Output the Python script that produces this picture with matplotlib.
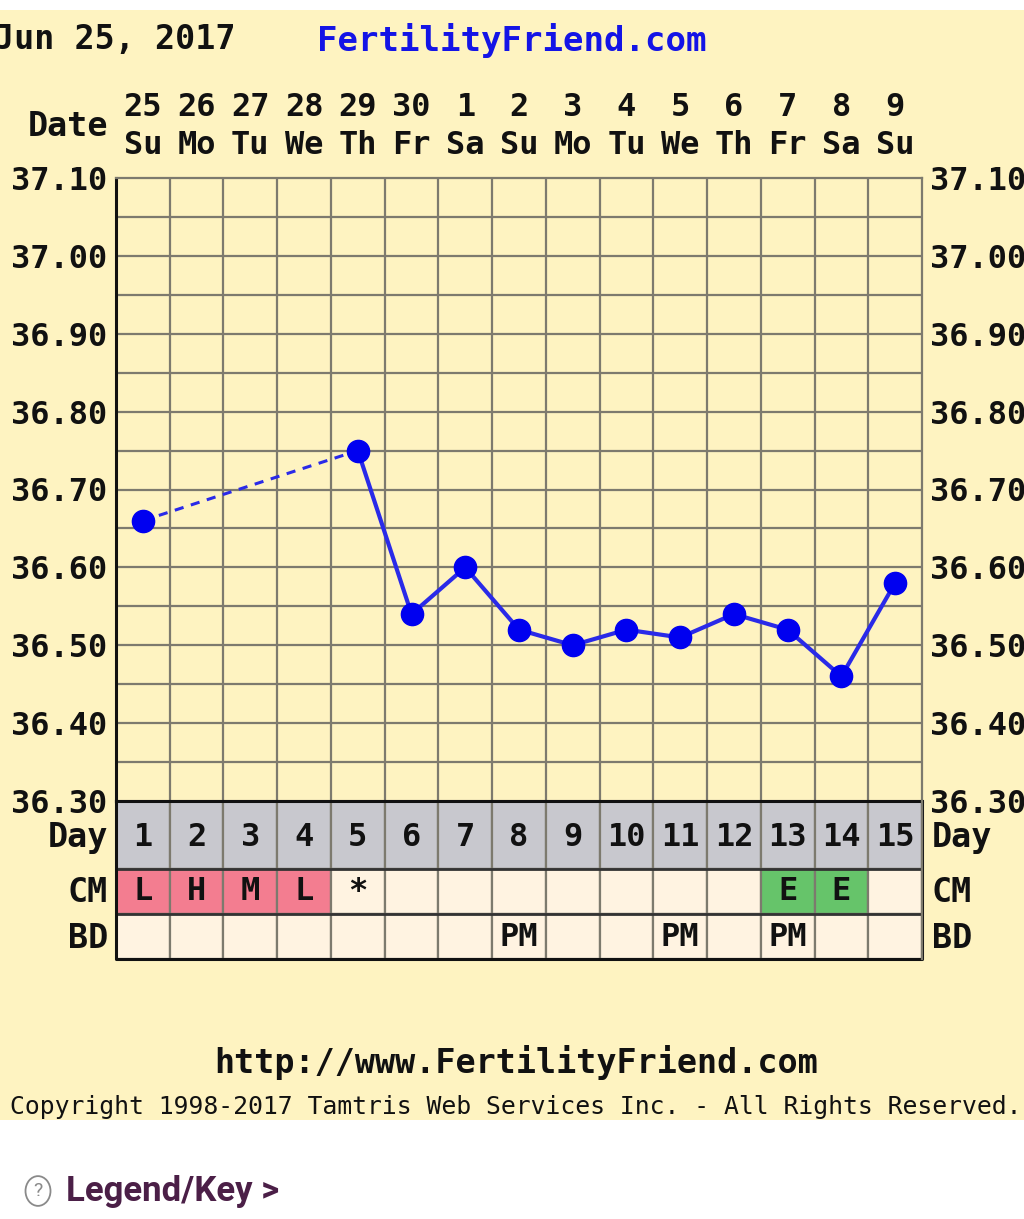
"""Fertility chart (BBT) recreation."""

import matplotlib

matplotlib.use("Agg")
import matplotlib.pyplot as plt
import matplotlib.transforms as mtransforms
from matplotlib.patches import Rectangle, Circle
import numpy as np

W, H = 1024, 1219

cycle_days = list(range(1, 16))
dates = ["25", "26", "27", "28", "29", "30", "1", "2", "3", "4", "5", "6", "7", "8", "9"]
weekdays = ["Su", "Mo", "Tu", "We", "Th", "Fr", "Sa", "Su", "Mo", "Tu", "We", "Th", "Fr", "Sa", "Su"]
temps = [36.66, None, None, None, 36.75, 36.54, 36.60, 36.52, 36.50, 36.52, 36.51, 36.54, 36.52, 36.46, 36.58]
cm_codes = ["L", "H", "M", "L", "*", "", "", "", "", "", "", "", "E", "E", ""]
bd_codes = ["", "", "", "", "", "", "", "PM", "", "", "PM", "", "PM", "", ""]
y_ticks = [37.10, 37.00, 36.90, 36.80, 36.70, 36.60, 36.50, 36.40, 36.30]

BG = "#fef3c1"
CELL = "#fff3e1"
GRAY_ROW = "#c8c8ce"
PINK = "#f37d90"
GREEN = "#66c46a"
GRID = "#7d7a6e"
BLUE = "#0000f0"
MONO = "DejaVu Sans Mono"


def fx(px):
    return px / W


def fy(py):
    return 1 - py / H


fig = plt.figure(figsize=(W / 100, H / 100), dpi=100, facecolor="white")
fig.patches.append(Rectangle((0, fy(1120)), 1, fy(10) - fy(1120), transform=fig.transFigure,
                             facecolor=BG, edgecolor="none", zorder=-5))

left, right = 116, 922
top, bottom = 178, 801
ax = fig.add_axes([fx(left), fy(bottom), fx(right) - fx(left), fy(top) - fy(bottom)])
ax.set_facecolor(BG)
ax.set_xlim(0.5, 15.5)
ax.set_ylim(36.30, 37.10)

for x in np.arange(1.5, 15.5, 1.0):
    ax.axvline(x, color=GRID, lw=1.6, zorder=1)
for y in np.arange(36.35, 37.10, 0.05):
    ax.axhline(y, color=GRID, lw=1.6, zorder=1)

for side in ["top", "right"]:
    ax.spines[side].set_color(GRID)
    ax.spines[side].set_linewidth(1.6)
for side in ["left", "bottom"]:
    ax.spines[side].set_color("#111111")
    ax.spines[side].set_linewidth(2.2)

ax.set_xticks([])
ax.set_yticks(y_ticks)
ax.set_yticklabels([f"{v:.2f}" for v in y_ticks])
ax.tick_params(axis="y", length=0, labelright=True, pad=6, labelsize=23)
for lab in ax.get_yticklabels() + ax.yaxis.get_ticklabels(minor=False):
    lab.set_fontfamily(MONO)
    lab.set_fontweight("bold")
    lab.set_color("#111111")
for t in ax.yaxis.get_major_ticks():
    t.label2.set_fontfamily(MONO)
    t.label2.set_fontweight("bold")
    t.label2.set_color("#111111")

# temperature line
xs = np.array(cycle_days, dtype=float)
ts = np.array([np.nan if t is None else t for t in temps])
ax.plot([xs[0], xs[4]], [ts[0], ts[4]], color="#2a2ae8", lw=2.2, ls=(0, (3, 2.5)), zorder=3)
ax.plot(xs[4:], ts[4:], color="#2a2ae8", lw=3, zorder=3)
ax.plot(xs, ts, ls="none", marker="o", ms=16, color=BLUE, zorder=4)

# date header
bt = mtransforms.blended_transform_factory(ax.transData, fig.transFigure)
for d, dt, wd in zip(cycle_days, dates, weekdays):
    ax.text(d, fy(107), dt, transform=bt, ha="center", va="center", fontsize=23,
            fontfamily=MONO, fontweight="bold", color="#111111")
    ax.text(d, fy(146), wd, transform=bt, ha="center", va="center", fontsize=23,
            fontfamily=MONO, fontweight="bold", color="#111111")

# table rows
tb_top, tb_bot = 801, 959
tax = fig.add_axes([fx(left), fy(tb_bot), fx(right) - fx(left), fy(tb_top) - fy(tb_bot)])
tax.set_xlim(0.5, 15.5)
tax.set_ylim(158, 0)
tax.set_axis_off()
rows = [(0, 68), (68, 45), (113, 45)]
cm_colors = [PINK if c in ("L", "H", "M") else GREEN if c == "E" else CELL for c in cm_codes]
tax.bar(cycle_days, rows[0][1], bottom=rows[0][0], width=1.0, color=GRAY_ROW, edgecolor=GRID, lw=1.6)
tax.bar(cycle_days, rows[1][1], bottom=rows[1][0], width=1.0, color=cm_colors, edgecolor=GRID, lw=1.6)
tax.bar(cycle_days, rows[2][1], bottom=rows[2][0], width=1.0, color=CELL, edgecolor=GRID, lw=1.6)
for yb in [68, 113]:
    tax.plot([0.5, 15.5], [yb, yb], color="#333333", lw=2.0)
tax.plot([0.5, 0.5, 15.5, 15.5, 0.5], [0, 158, 158, 0, 0], color="#111111", lw=2.2, clip_on=False)
tax.plot([15.5, 15.5], [0, 158], color=GRID, lw=1.6, clip_on=False)

txt = dict(ha="center", va="center", fontsize=23, fontfamily=MONO, fontweight="bold", color="#111111")
for d in cycle_days:
    tax.text(d, 37, str(d), **txt)
for d, c in zip(cycle_days, cm_codes):
    if c:
        tax.text(d, 91, c, **txt)
for d, c in zip(cycle_days, bd_codes):
    if c:
        tax.text(d, 136, c, **txt)

lab = dict(fontsize=24, fontfamily=MONO, fontweight="bold", color="#111111", va="center")
fig.text(fx(108), fy(126), "Date", ha="right", **lab)
for name, py in [("Day", 838), ("CM", 892), ("BD", 938)]:
    fig.text(fx(108), fy(py), name, ha="right", **lab)
    fig.text(fx(932), fy(py), name, ha="left", **lab)

fig.text(fx(236), fy(40), "Jun 25, 2017", ha="right", **lab)
fig.text(fx(317), fy(40), "FertilityFriend.com", ha="left", fontsize=24.5, fontfamily=MONO,
         fontweight="bold", color="#1414e6", va="center")
fig.text(fx(516), fy(1062), "http://www.FertilityFriend.com", ha="center", **lab)
fig.text(fx(10), fy(1107), "Copyright 1998-2017 Tamtris Web Services Inc. - All Rights Reserved.",
         ha="left", va="center", fontsize=17.8, fontfamily=MONO, color="#111111")

fig.patches.append(Circle((fx(38), fy(1191)), 12.5 / W, transform=fig.transFigure,
                          facecolor="white", edgecolor="#8a8a8a", lw=1.3))
fig.text(fx(38), fy(1191), "?", ha="center", va="center", fontsize=14, fontfamily="Roboto",
         color="#8a8a8a")
fig.text(fx(66), fy(1191), "Legend/Key >", ha="left", va="center", fontsize=25, fontfamily="Roboto",
         fontweight="bold", color="#4b1f47")

fig.savefig("out.png", dpi=100, facecolor="white")
